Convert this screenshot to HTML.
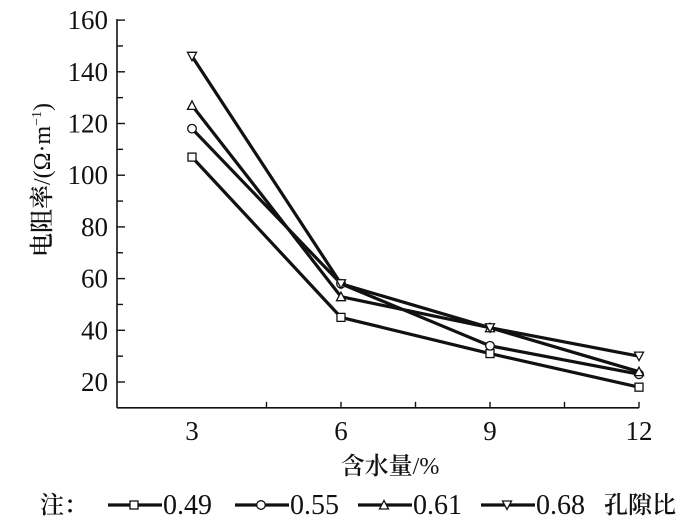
<!DOCTYPE html>
<html><head><meta charset="utf-8"><style>
body{margin:0;background:#fff}
text{font-family:"Liberation Serif","DejaVu Serif","Noto Serif CJK SC",serif;fill:#111}
</style></head><body>
<svg id="c" width="700" height="522" xmlns="http://www.w3.org/2000/svg"></svg>
<script>
const categories=[3,6,9,12];
const seriesNames=["0.49","0.55","0.61","0.68"];
const s049=[107,45,31,18];
const s055=[118,58,34,23];
const s061=[127,53,41,24];
const s068=[146,58,41,30];
const yTicks=[20,40,60,80,100,120,140,160];
const series=[s049,s055,s061,s068];
const markers=["square","circle","up","down"];
const NS="http://www.w3.org/2000/svg";
const FF="'Liberation Serif','DejaVu Serif','Noto Serif CJK SC',serif";
const svg=document.getElementById('c');
const X=v=>192+(v-3)*(149/3);
const Y=v=>382-(v-20)*(51.7/20);
function el(t,a,p){const e=document.createElementNS(NS,t);for(const k in a)e.setAttribute(k,a[k]);if(t=='text')e.setAttribute('font-family',FF);(p||svg).appendChild(e);return e;}
const ax=el('g',{});


el('line',{x1:117,y1:Y(10),x2:X(12),y2:Y(10),stroke:'#111','stroke-width':1.6},ax);
el('line',{x1:117,y1:Y(10),x2:117,y2:Y(160)-1,stroke:'#111','stroke-width':1.6},ax);
for(let v=20;v<=160;v+=10){el('line',{x1:117,y1:Y(v),x2:v%20?123:125,y2:Y(v),stroke:'#111','stroke-width':1.4},ax);}
yTicks.forEach(v=>{const t=el('text',{x:108,y:Y(v)+9,'text-anchor':'end','font-size':27},ax);t.textContent=v;

});
for(let v=4.5;v<=12;v+=1.5){el('line',{x1:X(v),y1:Y(10),x2:X(v),y2:Y(10)-6,stroke:'#111','stroke-width':1.4},ax);}
categories.forEach(v=>{const t=el('text',{x:X(v),y:440,'text-anchor':'middle','font-size':27},ax);t.textContent=v;

});
const xt=el('text',{x:390,y:474,'text-anchor':'middle','font-size':24});xt.innerHTML='<tspan font-weight="600">含水量</tspan>/%';


const yt=el('text',{x:0,y:0,'text-anchor':'middle','font-size':24,transform:'translate(50,180) rotate(-90)'});
yt.innerHTML='<tspan font-weight="600">电阻率</tspan>/(Ω·m<tspan dy="-9" font-size="14">−1</tspan><tspan dy="9">)</tspan>';


function marker(type,x,y,g){
 const a={fill:'#fff',stroke:'#111','stroke-width':1.3};
 if(type=='square')el('rect',Object.assign({x:x-4,y:y-4,width:8,height:8},a),g);
 else if(type=='circle')el('circle',Object.assign({cx:x,cy:y,r:4.3},a),g);
 else if(type=='up')el('polygon',Object.assign({points:`${x-4.5},${y+4} ${x+4.5},${y+4} ${x},${y-4.5}`},a),g);
 else el('polygon',Object.assign({points:`${x-4.5},${y-4} ${x+4.5},${y-4} ${x},${y+4.5}`},a),g);
}
series.forEach((s,i)=>{
 const g=el('g',{});
 
 
 el('polyline',{points:s.map((v,j)=>X(categories[j])+','+Y(v)).join(' '),fill:'none',stroke:'#111','stroke-width':3.2},g);
 s.forEach((v,j)=>marker(markers[i],X(categories[j]),Y(v),g));
});
const lg=el('g',{});


const n=el('text',{x:40,y:513,'font-size':24,'font-weight':600},lg);n.textContent='注：';
const lx=[108,235,358,481];
seriesNames.forEach((nm,i)=>{
 const e=el('g',{},lg);
 
 
 el('line',{x1:lx[i],y1:505,x2:lx[i]+54,y2:505,stroke:'#111','stroke-width':3.2},e);
 marker(markers[i],lx[i]+26,505,e);
 const t=el('text',{x:lx[i]+55,y:514,'font-size':28},e);t.textContent=nm;
});
const lt=el('text',{x:604,y:513,'font-size':24,'font-weight':600},lg);lt.textContent='孔隙比';
</script>
</body></html>
